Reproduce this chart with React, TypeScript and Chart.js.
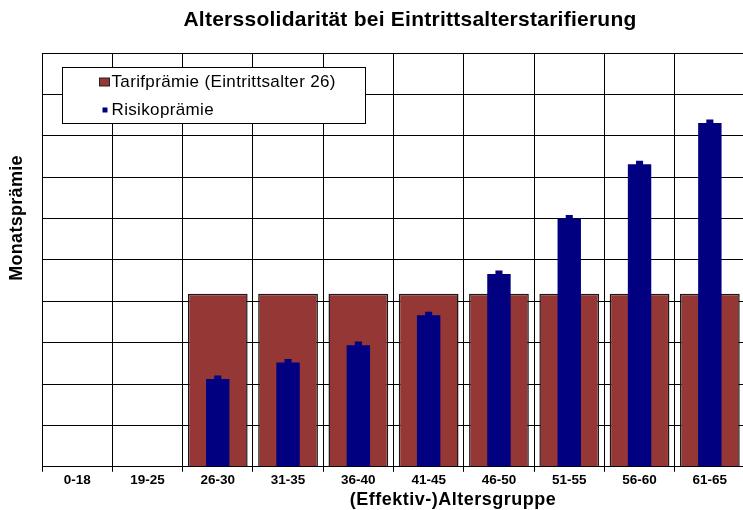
import React, { useEffect, useRef } from "react";
import { Chart, registerables } from "chart.js";

Chart.register(...registerables);

// ---- data ----
const categories = ["0-18", "19-25", "26-30", "31-35", "36-40", "41-45", "46-50", "51-55", "56-60", "61-65"];
const tarifPraemie = [null, null, 4.18, 4.18, 4.18, 4.18, 4.18, 4.18, 4.18, 4.18];
const risikoPraemie = [null, null, 2.12, 2.52, 2.94, 3.66, 4.66, 6.0, 7.31, 8.31];
const yMin = 0;
const yMax = 10;
const yStep = 1;

const chartTitle = "Alterssolidarität bei Eintrittsalterstarifierung";
const xTitle = "(Effektiv-)Altersgruppe";
const yTitle = "Monatsprämie";
const legendLabels = ["Tarifprämie (Eintrittsalter 26)", "Risikoprämie"];

const FONT = "'Liberation Sans', Arial, sans-serif";
const RED = "#953735";
const NAVY = "#000080";

function setSpacing(ctx: any, px: number) {
  if ("letterSpacing" in ctx) ctx.letterSpacing = `${px}px`;
}

const textPlugin = {
  id: "customTexts",
  afterDraw(chart: any) {
    const ctx = chart.ctx as CanvasRenderingContext2D;
    const ca = chart.chartArea;
    ctx.save();
    ctx.fillStyle = "#000";
    // title
    ctx.font = `bold 21px ${FONT}`;
    setSpacing(ctx, 0.25);
    ctx.textAlign = "center";
    ctx.textBaseline = "middle";
    ctx.fillText(chartTitle, 410, 20);
    // x title
    ctx.font = `bold 18px ${FONT}`;
    setSpacing(ctx, 0.5);
    ctx.fillText(xTitle, 453, 500);
    // y title
    ctx.save();
    ctx.translate(17, 218);
    ctx.rotate(-Math.PI / 2);
    ctx.font = `bold 18px ${FONT}`;
    setSpacing(ctx, 0.3);
    ctx.fillText(yTitle, 0, 0);
    ctx.restore();

    // legend box
    setSpacing(ctx, 0);
    const lx = ca.left + 20.5, ly = 67.5, lw = 303, lh = 56;
    ctx.fillStyle = "#fff";
    ctx.fillRect(lx, ly, lw, lh);
    ctx.strokeStyle = "#000";
    ctx.lineWidth = 1;
    ctx.strokeRect(lx, ly, lw, lh);
    // item 1
    ctx.fillStyle = RED;
    ctx.fillRect(lx + 37, ly + 10.5, 10, 8);
    ctx.strokeStyle = "#222";
    ctx.strokeRect(lx + 37, ly + 10.5, 10, 8);
    ctx.fillStyle = "#000";
    ctx.font = `17px ${FONT}`;
    setSpacing(ctx, 0.35);
    ctx.textAlign = "left";
    ctx.textBaseline = "alphabetic";
    ctx.fillText(legendLabels[0], lx + 49, ly + 19);
    // item 2
    ctx.fillStyle = NAVY;
    ctx.fillRect(lx + 40, ly + 40, 5, 5);
    ctx.fillStyle = "#000";
    ctx.fillText(legendLabels[1], lx + 49, ly + 47);
    ctx.restore();
  },
};

export default function App() {
  const ref = useRef<HTMLCanvasElement | null>(null);
  useEffect(() => {
    if (!ref.current) return;
    const chart = new Chart(ref.current, {
      type: "bar",
      data: {
        labels: categories,
        datasets: [
          {
            type: "line",
            label: legendLabels[1] + " marker",
            data: risikoPraemie,
            showLine: false,
            pointStyle: "rect",
            pointRadius: 5,
            pointBackgroundColor: NAVY,
            pointBorderColor: NAVY,
            pointBorderWidth: 0,
            order: -1,
          } as any,
          {
            label: legendLabels[1],
            data: risikoPraemie,
            backgroundColor: NAVY,
            borderWidth: 0,
            grouped: false,
            categoryPercentage: 1,
            barPercentage: 0.333,
            order: 0,
          },
          {
            label: legendLabels[0],
            data: tarifPraemie,
            backgroundColor: RED,
            borderColor: "#1a1a1a",
            borderWidth: 1.5,
            grouped: false,
            categoryPercentage: 1,
            barPercentage: 0.85,
            order: 1,
          },
        ],
      },
      options: {
        responsive: false,
        animation: false,
        layout: { padding: { left: 42, right: 1, top: 53, bottom: 22 } },
        plugins: {
          legend: { display: false },
          title: { display: false },
          tooltip: { enabled: false },
        },
        scales: {
          x: {
            offset: true,
            grid: { color: "#000", lineWidth: 1, tickLength: 5, offset: true, drawTicks: true },
            border: { display: true, color: "#000", width: 1 },
            ticks: { color: "#000", font: { family: FONT, size: 13.5, weight: "bold" }, padding: 0, maxRotation: 0 },
          },
          y: {
            min: yMin,
            max: yMax,
            ticks: { display: false, stepSize: yStep },
            grid: { color: "#000", lineWidth: 1, drawTicks: false },
            border: { display: false },
          },
        },
      },
      plugins: [textPlugin],
    } as any);
    return () => chart.destroy();
  }, []);
  return (
    <div style={{ position: "fixed", left: 0, top: 0, width: 743, height: 510, overflow: "hidden", background: "#fff" }}>
      <canvas ref={ref} width={750} height={510} style={{ width: 750, height: 510, display: "block" }} />
    </div>
  );
}
